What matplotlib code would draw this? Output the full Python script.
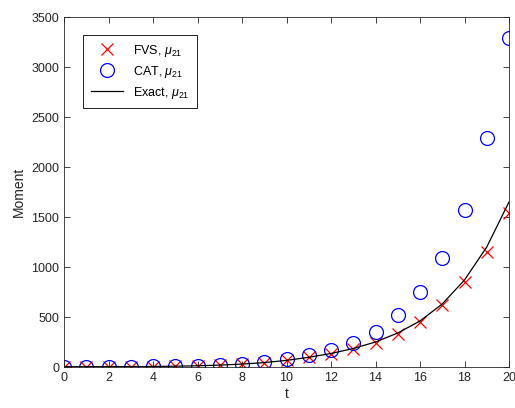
import matplotlib
matplotlib.use("Agg")
import matplotlib.pyplot as plt
import numpy as np

plt.rcParams['font.family'] = ['Liberation Sans', 'DejaVu Sans']
plt.rcParams['mathtext.fontset'] = 'custom'
plt.rcParams['mathtext.it'] = 'Liberation Sans:italic'
plt.rcParams['mathtext.rm'] = 'Liberation Sans'

t = list(range(0, 21))
fvs = [3, 3, 4, 4, 5, 8, 12, 20, 30, 45, 68, 98, 135, 180, 240, 330, 450, 620, 850, 1150, 1540]
cat = [4, 4, 5, 5, 6, 10, 15, 25, 35, 52, 80, 120, 170, 240, 350, 520, 750, 1090, 1570, 2290, 3290]
exact = [3, 3, 4, 4, 5, 8, 12, 19, 29, 44, 66, 97, 135, 185, 250, 340, 460, 630, 870, 1200, 1650]

fig = plt.figure(figsize=(5.15, 4.08), dpi=100)
ax = fig.add_axes([64/515, 41/408, 445/515, 350/408])

ax.plot(t, fvs, linestyle='none', marker='x', color='red', markersize=9, markeredgewidth=0.9,
        label=r'FVS, $\mu_{21}$')
ax.plot(t, cat, linestyle='none', marker='o', markerfacecolor='none', markeredgecolor='blue',
        markersize=10, markeredgewidth=0.9, label=r'CAT, $\mu_{21}$')
ax.plot(t, exact, color='black', linewidth=0.9, label=r'Exact, $\mu_{21}$')

ax.set_xlim(0, 20)
ax.set_ylim(0, 3500)
ax.set_xticks(range(0, 21, 2))
ax.set_yticks(range(0, 3501, 500))
ax.tick_params(direction='in', top=True, right=True, labelsize=9, length=4, width=0.6,
               color='#262626', labelcolor='#262626')
for s in ax.spines.values():
    s.set_linewidth(0.6)
    s.set_color('#262626')
ax.set_xlabel('t', fontsize=10, labelpad=2, color='#262626')
ax.set_ylabel('Moment', fontsize=10, labelpad=4, color='#262626')

leg = ax.legend(loc='upper left', bbox_to_anchor=(19/445, 1 - 18/350), borderaxespad=0,
                fontsize=9, frameon=True, fancybox=False, edgecolor='black', framealpha=1,
                borderpad=0.6, handlelength=2.6, labelspacing=0.4)
leg.get_frame().set_linewidth(0.6)

fig.savefig('out.png', dpi=100)
